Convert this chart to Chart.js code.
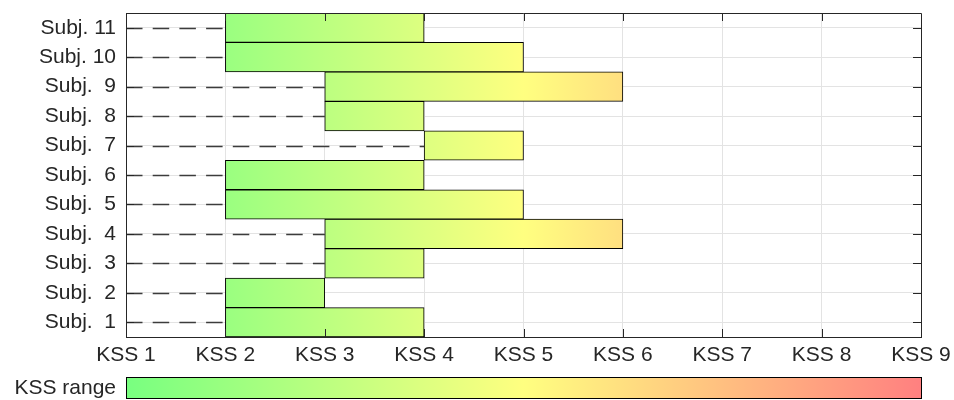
<!DOCTYPE html>
<html>
<head>
<meta charset="utf-8">
<script src="https://cdn.jsdelivr.net/npm/chart.js@4"></script>
<style>
  html, body { margin: 0; padding: 0; background: #fff; }
</style>
</head>
<body>
<canvas id="kssChart" width="954" height="400"></canvas>
<script>
// subjects, bottom to top
const subjects = [1, 2, 3, 4, 5, 6, 7, 8, 9, 10, 11];
const kssMin = [2, 2, 3, 3, 2, 2, 4, 3, 3, 2, 2];
const kssMax = [4, 3, 4, 6, 5, 4, 5, 4, 6, 5, 4];
const kssTicks = [1, 2, 3, 4, 5, 6, 7, 8, 9];

const labels = subjects.map(n => n < 10 ? 'Subj.  ' + n : 'Subj. ' + n);
const ranges = subjects.map((n, i) => [kssMin[i], kssMax[i]]);

const FONT = "'Liberation Sans', Arial, sans-serif";
const FSIZE = 21;
const TEXT = '#262626';

function kssGradient(ctx, xScale) {
    const g = ctx.createLinearGradient(xScale.getPixelForValue(1), 0, xScale.getPixelForValue(9), 0);
    g.addColorStop(0, 'rgb(120,255,128)');
    g.addColorStop(0.5, 'rgb(255,255,128)');
    g.addColorStop(1, 'rgb(255,128,128)');
    return g;
}

const extras = {
    id: 'extras',
    beforeDatasetsDraw(chart) {
        // dashed guide lines from the axis to each bar
        const { ctx, scales: { x, y } } = chart;
        ctx.save();
        ctx.strokeStyle = '#3c3c3c';
        ctx.lineWidth = 1.3;
        ctx.setLineDash([16.5, 10.2]);
        subjects.forEach((n, i) => {
            const py = Math.round(y.getPixelForValue(i)) + 0.5;
            ctx.beginPath();
            ctx.moveTo(x.getPixelForValue(1), py);
            ctx.lineTo(x.getPixelForValue(kssMin[i]), py);
            ctx.stroke();
        });
        ctx.restore();
    },
    afterDraw(chart) {
        const { ctx, chartArea: a, scales: { x, y } } = chart;
        ctx.save();
        // box and inward ticks
        ctx.strokeStyle = TEXT;
        ctx.lineWidth = 1;
        ctx.beginPath();
        ctx.moveTo(a.left, a.top + 0.5);
        ctx.lineTo(a.right + 0.5, a.top + 0.5);
        ctx.lineTo(a.right + 0.5, a.bottom);
        kssTicks.slice(1, -1).forEach(v => {
            const px = Math.round(x.getPixelForValue(v)) + 0.5;
            ctx.moveTo(px, a.top);
            ctx.lineTo(px, a.top + 8);
            ctx.moveTo(px, a.bottom);
            ctx.lineTo(px, a.bottom - 8);
        });
        subjects.forEach((n, i) => {
            const py = Math.round(y.getPixelForValue(i)) + 0.5;
            ctx.moveTo(a.right, py);
            ctx.lineTo(a.right - 8, py);
            ctx.moveTo(a.left, py);
            ctx.lineTo(a.left + 8, py);
        });
        ctx.stroke();

        // colour bar
        const x0 = x.getPixelForValue(1), x1 = x.getPixelForValue(9);
        const top = 377, h = 21;
        ctx.fillStyle = kssGradient(ctx, x);
        ctx.fillRect(x0, top, x1 - x0, h);
        ctx.strokeStyle = '#000';
        ctx.strokeRect(Math.round(x0) + 0.5, top + 0.5, Math.round(x1 - x0), h);
        ctx.fillStyle = TEXT;
        ctx.font = FSIZE + 'px ' + FONT;
        ctx.textAlign = 'right';
        ctx.textBaseline = 'middle';
        ctx.fillText('KSS range', x0 - 10, top + h / 2 + 1);
        ctx.restore();
    }
};

new Chart(document.getElementById('kssChart'), {
    type: 'bar',
    data: {
        labels: labels,
        datasets: [{
            data: ranges,
            backgroundColor: c => c.chart.chartArea ? kssGradient(c.chart.ctx, c.chart.scales.x) : '#cf8',
            borderColor: '#000',
            borderWidth: 1,
            borderSkipped: false,
            barPercentage: 1,
            categoryPercentage: 1
        }]
    },
    options: {
        indexAxis: 'y',
        responsive: false,
        animation: false,
        layout: { padding: { top: 13, right: 33, left: 0, bottom: 0 } },
        plugins: { legend: { display: false }, tooltip: { enabled: false } },
        scales: {
            x: {
                type: 'linear',
                min: 1,
                max: 9,
                afterFit: s => {
                    s.height = 63;
                    s.paddingLeft = 0;
                    s.paddingRight = 0;
                },
                ticks: {
                    stepSize: 1,
                    padding: 6,
                    color: TEXT,
                    font: { family: FONT, size: FSIZE },
                    callback: v => 'KSS ' + v
                },
                grid: { color: '#e3e3e3', drawTicks: false },
                border: { color: TEXT }
            },
            y: {
                reverse: true,
                afterFit: s => {
                    s.width = 126;
                    s.paddingTop = 0;
                    s.paddingBottom = 0;
                },
                ticks: {
                    padding: 10,
                    color: TEXT,
                    font: { family: FONT, size: FSIZE }
                },
                grid: { color: '#e3e3e3', drawTicks: false, offset: false },
                border: { color: TEXT }
            }
        }
    },
    plugins: [extras]
});
</script>
</body>
</html>
